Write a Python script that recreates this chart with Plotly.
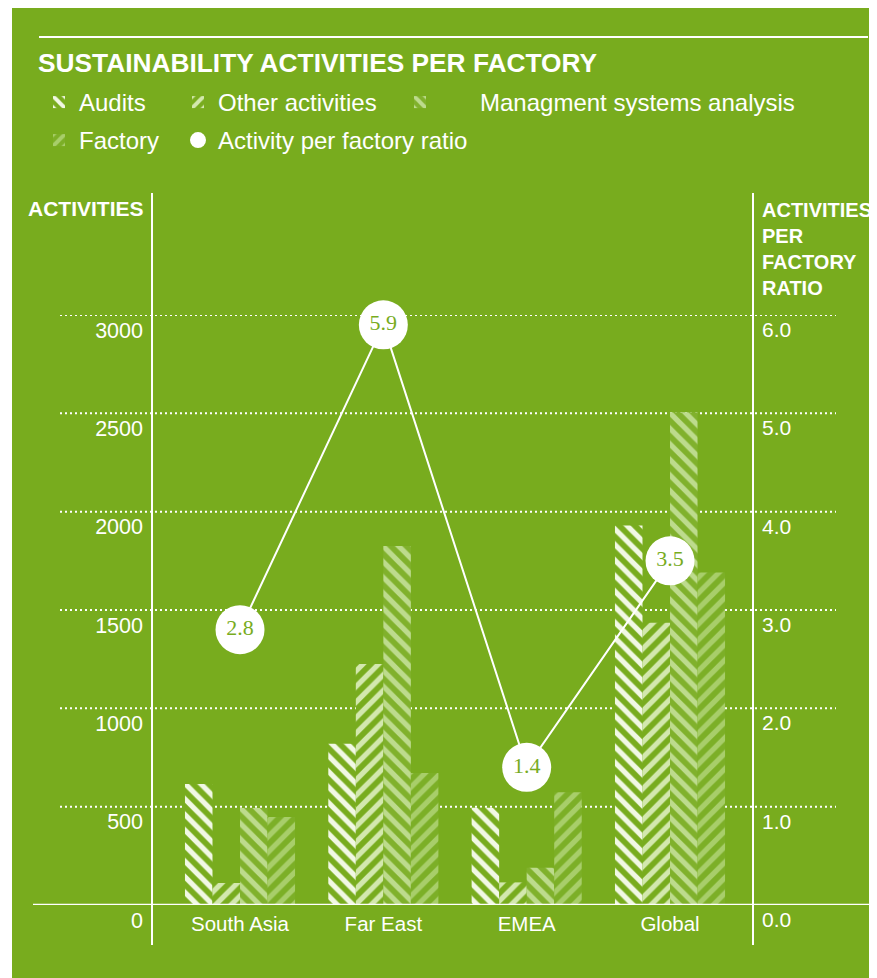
import plotly.graph_objects as go

# ---------------- data ----------------
categories = ["South Asia", "Far East", "EMEA", "Global"]
audits = [615, 820, 495, 1930]
other_activities = [112, 1225, 115, 1435]
management = [493, 1825, 190, 2505]
factory = [447, 671, 573, 1691]
ratio = [2.8, 5.9, 1.4, 3.5]
ratio_labels = ["2.8", "5.9", "1.4", "3.5"]

left_ticks = [0, 500, 1000, 1500, 2000, 2500, 3000]
right_ticks = [0, 1, 2, 3, 4, 5, 6]

# ---------------- style ----------------
W, H = 877, 978
OFF = 8  # page body margin offset
GREEN = "#78ac1e"
WHITE = "#ffffff"
FONT = "Liberation Sans"

# plot area in screen pixels: x 152..753, y 315..905
L = 152 - OFF
R = W - (753 - OFF)
T = 315 - OFF
B = H - (905 - OFF)
PW, PH = W - L - R, H - T - B


def px_x(p):  # screen pixel -> paper x
    return (p - OFF - L) / PW


def px_y(p):  # screen pixel -> paper y
    return (H - B - (p - OFF)) / PH


def cy(p):  # screen pixel -> container y (from bottom)
    return 1 - (p - OFF) / H


def cx(p):
    return (p - OFF) / W


NB = "\u00a0"
series = [
    ("Audits", audits, "\\", GREEN, "#f1f8e4", "legend"),
    ("Other activities", other_activities, "/", GREEN, "#d3e8ae", "legend2"),
    (NB * 6 + "Managment systems analysis", management, "\\", "#80b12c", "#bddb8d", "legend3"),
    ("Factory", factory, "/", "#7caf27", "#a8ce6a", "legend4"),
]

fig = go.Figure()
for name, vals, shape, bg, fg, lg in series:
    fig.add_trace(go.Bar(
        x=categories, y=vals, name=name, legend=lg,
        marker=dict(color=bg, line=dict(width=0),
                    pattern=dict(shape=shape, bgcolor=bg, fgcolor=fg,
                                 size=11, solidity=0.48, fillmode="replace")),
        hoverinfo="skip",
    ))

fig.add_trace(go.Scatter(
    x=categories, y=ratio, yaxis="y2", mode="lines+markers+text",
    text=ratio_labels, textposition="middle center",
    textfont=dict(family="Liberation Serif", size=22, color=GREEN),
    line=dict(color=WHITE, width=2),
    marker=dict(size=49, color=WHITE, line=dict(width=0)),
    cliponaxis=False, showlegend=False, hoverinfo="skip",
))
# legend entry for the ratio markers
fig.add_trace(go.Scatter(
    x=[None], y=[None], yaxis="y2", mode="markers", name="Activity per factory ratio",
    legend="legend5", marker=dict(size=30, color=WHITE),
))

shapes = []
# green panel
shapes.append(dict(type="rect", xref="paper", yref="paper",
                   x0=px_x(12), x1=px_x(W + 20), y0=px_y(H + 20), y1=px_y(7),
                   fillcolor=GREEN, line=dict(width=0), layer="below"))
# dotted grid lines
for v in left_ticks[1:]:
    shapes.append(dict(type="line", xref="paper", yref="y",
                       x0=px_x(60), x1=px_x(836), y0=v, y1=v,
                       line=dict(color=WHITE, width=2, dash="2px,3px"), layer="below"))
# baseline
shapes.append(dict(type="line", xref="paper", yref="y",
                   x0=px_x(33), x1=px_x(872), y0=0, y1=0,
                   line=dict(color=WHITE, width=2.5), layer="above"))
# vertical axis lines
for xp in (152, 753):
    shapes.append(dict(type="line", xref="paper", yref="paper",
                       x0=px_x(xp), x1=px_x(xp), y0=px_y(945), y1=px_y(193),
                       line=dict(color=WHITE, width=2), layer="above"))
# top rule
shapes.append(dict(type="line", xref="paper", yref="paper",
                   x0=px_x(39), x1=px_x(868), y0=px_y(37), y1=px_y(37),
                   line=dict(color=WHITE, width=2), layer="above"))

annotations = [
    dict(text="<b>SUSTAINABILITY ACTIVITIES PER FACTORY</b>", xref="paper", yref="paper",
         x=px_x(36), y=px_y(63), xanchor="left", yanchor="middle", showarrow=False,
         font=dict(family=FONT, size=26.3, color=WHITE)),
    dict(text="<b>ACTIVITIES</b>", xref="paper", yref="paper",
         x=px_x(146), y=px_y(209), xanchor="right", yanchor="middle", showarrow=False,
         font=dict(family=FONT, size=21, color=WHITE)),
    dict(text="<b>ACTIVITIES<br>PER<br>FACTORY<br>RATIO</b>", xref="paper", yref="paper",
         x=px_x(760), y=px_y(197), xanchor="left", yanchor="top", align="left",
         showarrow=False, font=dict(family=FONT, size=20, color=WHITE)),
]


def legend_box(x_text_start, y_center):
    return dict(orientation="h", xref="container", yref="container",
                x=cx(x_text_start - 40), y=cy(y_center - 23),
                xanchor="left", yanchor="top",
                bgcolor="rgba(0,0,0,0)", font=dict(family=FONT, size=24, color=WHITE),
                itemsizing="trace")


fig.update_layout(
    width=W, height=H,
    margin=dict(l=L, r=R, t=T, b=B, autoexpand=False),
    paper_bgcolor=WHITE, plot_bgcolor=GREEN,
    barmode="group", bargap=0.232, bargroupgap=0,
    font=dict(family=FONT, color=WHITE, size=21),
    shapes=shapes, annotations=annotations,
    xaxis=dict(type="category", range=[-0.614, 3.579], showgrid=False, zeroline=False,
               showline=False, ticks="", tickfont=dict(size=20.5, color=WHITE),
               ticklabelstandoff=4),
    yaxis=dict(range=[0, 3000], tickvals=left_ticks, showgrid=False, zeroline=False,
               showline=False, ticks="", ticklabelposition="outside bottom",
               tickfont=dict(size=21.5, color=WHITE), ticklabelstandoff=8),
    yaxis2=dict(range=[0, 6], tickvals=right_ticks, tickformat=".1f", overlaying="y",
                side="right", showgrid=False, zeroline=False, showline=False, ticks="",
                ticklabelposition="outside bottom", tickfont=dict(size=21, color=WHITE),
                ticklabelstandoff=8),
    legend=legend_box(79, 103),
    legend2=legend_box(218, 103),
    legend3=legend_box(440, 103),
    legend4=legend_box(79, 141),
    legend5=legend_box(218, 141),
)

fig.write_html("out.html")
